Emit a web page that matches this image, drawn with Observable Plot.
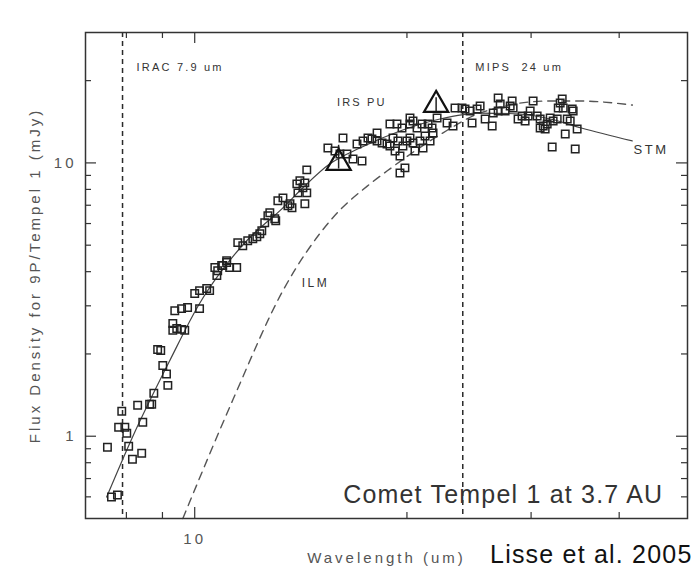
<!DOCTYPE html>
<html>
<head>
<meta charset="utf-8">
<script src="https://cdn.jsdelivr.net/npm/d3@7"></script>
<script src="https://cdn.jsdelivr.net/npm/@observablehq/plot@0.6"></script>
<style>
  html, body { margin: 0; padding: 0; background: #fff; }
  #wrap { position: relative; width: 696px; height: 576px; overflow: hidden; background: #fff; }
  #topline { position: absolute; left: 0; top: 6px; width: 696px; height: 2px; background: #d4d4d4; }
  #wrap svg { position: absolute; left: 0; top: 0; }
</style>
</head>
<body>
<div id="wrap"><div id="topline"></div></div>
<script>
// Photometry points (squares): wavelength (um) and flux density (mJy)
const sqWave = [7.52, 7.62, 7.77, 7.80, 7.88, 7.96, 8.01, 8.06, 8.16, 8.30, 8.41, 8.44, 8.63, 8.69, 8.75, 9.16, 9.12, 9.01, 8.86, 8.95,
  9.31, 9.43, 9.58, 9.68, 9.31, 9.37, 9.58, 9.77, 10.16, 10.0, 10.16, 10.40, 10.50, 10.75, 10.78, 10.96, 11.10, 10.68, 10.92, 11.10,
  11.21, 11.47, 11.51, 11.70, 11.89, 12.09, 12.25, 12.37, 12.45, 12.57, 12.70, 12.78, 12.99, 13.03, 13.12, 13.34, 13.56, 13.74, 13.65, 13.96,
  14.10, 14.33, 14.01, 14.42, 14.33, 14.24, 14.42, 15.45, 15.81, 16.07, 16.23, 16.44, 16.77, 16.99, 17.27, 17.33, 17.61, 17.84, 18.14, 18.14,
  18.44, 18.74, 18.92, 18.92, 19.11, 19.24, 19.36, 19.42, 19.55, 19.55, 19.68, 19.74, 19.87, 20.0, 20.20, 20.20, 20.20, 20.40, 20.40, 20.53,
  20.67, 20.87, 21.01, 21.08, 21.22, 21.43, 21.57, 21.71, 21.78, 22.07, 22.80, 23.25, 23.40, 23.94, 24.18, 24.58, 24.74, 25.15, 25.40, 25.82,
  26.42, 26.51, 26.94, 26.94, 27.12, 27.56, 28.02, 28.20, 28.29, 28.75, 29.13, 29.42, 29.71, 29.91, 30.20, 30.60, 30.90, 30.90, 31.21, 31.41,
  31.62, 31.93, 32.14, 32.24, 32.67, 32.78, 32.99, 33.21, 33.32, 33.54, 33.76, 34.09, 34.31, 34.42, 34.65, 34.87];
const sqFlux = [0.912, 0.599, 0.609, 1.078, 1.234, 1.078, 1.025, 0.919, 0.824, 1.298, 0.867, 1.125, 1.309, 1.309, 1.436, 1.535, 1.69, 1.815, 2.077, 2.06,
  2.44, 2.48, 2.46, 2.44, 2.585, 2.88, 2.93, 2.96, 2.93, 3.33, 3.41, 3.47, 3.41, 3.87, 4.03, 4.21, 4.39, 4.14, 4.21, 4.32,
  4.14, 4.14, 5.11, 4.98, 5.19, 5.28, 5.37, 5.51, 5.65, 6.04, 6.41, 6.57, 6.25, 6.14, 7.27, 7.45, 6.97, 6.85, 7.09, 8.38,
  8.60, 8.45, 7.77, 7.77, 7.09, 8.11, 9.43, 11.34, 11.06, 10.78, 12.34, 10.78, 10.34, 11.73, 10.17, 12.03, 12.34, 12.23, 12.03, 12.87,
  11.83, 11.73, 11.53, 13.88, 12.34, 11.06, 13.88, 12.03, 10.60, 9.19, 13.42, 11.53, 9.59, 12.03, 13.88, 12.34, 14.60, 14.23, 11.83, 11.06,
  13.42, 12.03, 13.88, 11.34, 12.55, 13.88, 12.03, 13.42, 12.87, 14.60, 14.0, 13.65, 15.87, 15.87, 15.74, 15.48, 14.0, 15.74, 16.14, 14.48,
  13.65, 15.22, 15.48, 17.27, 16.42, 15.48, 16.14, 16.84, 15.87, 14.48, 14.84, 14.23, 14.84, 15.48, 16.84, 14.84, 14.48, 13.42, 13.65, 13.31,
  13.88, 14.60, 11.44, 14.23, 14.48, 15.87, 16.56, 17.12, 15.87, 12.76, 14.48, 14.23, 15.74, 15.48, 11.25, 13.31];

// IRS peak-up photometry (triangles) with error bars
const triWave = [16.0, 22.0];
const triFlux = [10.0, 16.3];
const triLow = [9.5, 15.2];
const triHigh = [11.6, 17.3];

// Model curves
const stmWave = [7.50, 8.16, 9.22, 10.16, 10.85, 11.85, 13.34, 14.24, 15.55, 17.15, 19.55, 22.28, 25.40, 28.94, 31.93, 35.35, 41.76];
const stmFlux = [0.599, 0.992, 1.894, 3.06, 3.94, 5.19, 6.85, 8.11, 9.92, 11.34, 13.09, 14.48, 15.22, 15.10, 14.48, 13.42, 12.03];
const ilmWave = [9.62, 11.32, 13.34, 15.70, 17.73, 18.92, 22.36, 25.40, 31.72, 35.23, 41.76];
const ilmFlux = [0.5, 1.353, 3.41, 6.30, 8.38, 9.51, 12.76, 15.22, 16.84, 16.84, 16.28];

// Instrument bands (vertical dashed lines)
const bandWave = [7.9, 24];

// Axis ticks
const xMajorTicks = [10];
const xMinorTicks = [8, 9, 20, 30, 40];
const yMajorTicks = [1, 10];
const yMinorTicks = [0.6, 0.7, 0.8, 0.9, 2, 3, 4, 5, 6, 7, 8, 9, 20];

// Text
const annotText = ["IRAC 7.9 um", "MIPS\u00a0\u00a024 um", "IRS PU", "ILM", "STM", "Comet Tempel 1 at 3.7 AU"];
const annotX = [8.27, 25.0, 15.91, 14.19, 41.9, 46.2];
const annotY = [22.4, 22.4, 16.7, 3.62, 11.15, 0.609];
const xLabel = "Wavelength (um)";
const yLabel = "Flux Density for 9P/Tempel 1 (mJy)";
const credit = "Lisse et al. 2005";

const squares = sqWave.map((w, i) => ({w, f: sqFlux[i]}));
const tris = triWave.map((w, i) => ({w, f: triFlux[i], lo: triLow[i], hi: triHigh[i]}));
const stm = stmWave.map((w, i) => ({w, f: stmFlux[i]}));
const ilm = ilmWave.map((w, i) => ({w, f: ilmFlux[i]}));
const annots = annotText.map((t, i) => ({t, w: annotX[i], f: annotY[i]}));

const W = 696, H = 576, mL = 85, mR = 9, mT = 32, mB = 58;
const fw = W - mL - mR, fh = H - mT - mB;
const major = 11, minor = 6;
const ink = "#333", txt = "#555";

const chart = Plot.plot({
  width: W, height: H,
  marginLeft: mL, marginRight: mR, marginTop: mT, marginBottom: mB,
  style: {fontFamily: "'Liberation Sans', Arial, sans-serif", background: "white", color: ink, overflow: "visible"},
  x: {type: "log", domain: [7, 50]},
  y: {type: "log", domain: [0.5, 30]},
  marks: [
    Plot.ruleX(bandWave, {x: d => d, stroke: "#2a2a2a", strokeWidth: 1.5, strokeDasharray: "5,4"}),
    Plot.line(ilm, {x: "w", y: "f", curve: "monotone-x", stroke: "#555", strokeWidth: 1.4, strokeDasharray: "8,6"}),
    Plot.line(stm, {x: "w", y: "f", curve: "monotone-x", stroke: "#444", strokeWidth: 1.2}),
    Plot.dot(squares, {x: "w", y: "f", symbol: "square", r: 4.2, stroke: "#222", strokeWidth: 1.5, fill: "none"}),
    Plot.ruleX(tris, {x: "w", y1: "lo", y2: "hi", stroke: "#222", strokeWidth: 1.5}),
    Plot.dot(tris, {x: "w", y: "f", symbol: "triangle", r: 9, stroke: "#111", strokeWidth: 2.2, fill: "none"}),
    // inward ticks
    Plot.ruleX(xMajorTicks, {x: d => d, insetTop: fh - major, stroke: ink, strokeWidth: 1.2}),
    Plot.ruleX(xMajorTicks, {x: d => d, insetBottom: fh - major, stroke: ink, strokeWidth: 1.2}),
    Plot.ruleX(xMinorTicks, {x: d => d, insetTop: fh - minor, stroke: ink, strokeWidth: 1.2}),
    Plot.ruleX(xMinorTicks, {x: d => d, insetBottom: fh - minor, stroke: ink, strokeWidth: 1.2}),
    Plot.ruleY(yMajorTicks, {y: d => d, insetRight: fw - major, stroke: ink, strokeWidth: 1.2}),
    Plot.ruleY(yMajorTicks, {y: d => d, insetLeft: fw - major, stroke: ink, strokeWidth: 1.2}),
    Plot.ruleY(yMinorTicks, {y: d => d, insetRight: fw - minor, stroke: ink, strokeWidth: 1.2}),
    Plot.ruleY(yMinorTicks, {y: d => d, insetLeft: fw - minor, stroke: ink, strokeWidth: 1.2}),
    Plot.frame({stroke: ink, strokeWidth: 1.5}),
    Plot.axisX({ticks: xMajorTicks, tickSize: 0, tickPadding: 15, fontSize: 15, color: txt, label: null, tickFormat: d => String(d)}),
    Plot.axisY({ticks: yMajorTicks, tickSize: 0, tickPadding: 9, fontSize: 15, color: txt, label: null, tickFormat: d => String(d)}),
    Plot.text(annots.slice(0, 3), {x: "w", y: "f", text: "t", textAnchor: "start", fontSize: 11, fill: "#333"}),
    Plot.text(annots.slice(3, 4), {x: "w", y: "f", text: "t", textAnchor: "start", fontSize: 12, fill: "#333"}),
    Plot.text(annots.slice(4, 5), {x: "w", y: "f", text: "t", textAnchor: "start", fontSize: 13, fill: "#333"}),
    Plot.text(annots.slice(5), {x: "w", y: "f", text: "t", textAnchor: "end", fontSize: 25, fill: "#333"}),
    Plot.text([xLabel], {text: d => d, frameAnchor: "bottom", textAnchor: "middle", dy: 44, fontSize: 15, fill: txt}),
    Plot.text([yLabel], {text: d => d, frameAnchor: "left", textAnchor: "middle", rotate: -90, dx: -50, fontSize: 15, fill: txt}),
    Plot.text([credit], {text: d => d, frameAnchor: "bottom-right", textAnchor: "end", dx: 5, dy: 44, fontSize: 25, fill: "#111"})
  ]
});

document.getElementById("wrap").appendChild(chart);

// IDL-style wide tracking on the small labels; modest tracking on the large ones
chart.querySelectorAll("text").forEach(t => {
  const fs = parseFloat(getComputedStyle(t).fontSize) || 10;
  t.setAttribute("letter-spacing", fs >= 20 ? 1.2 : (0.2 * fs).toFixed(2));
});
</script>
</body>
</html>
